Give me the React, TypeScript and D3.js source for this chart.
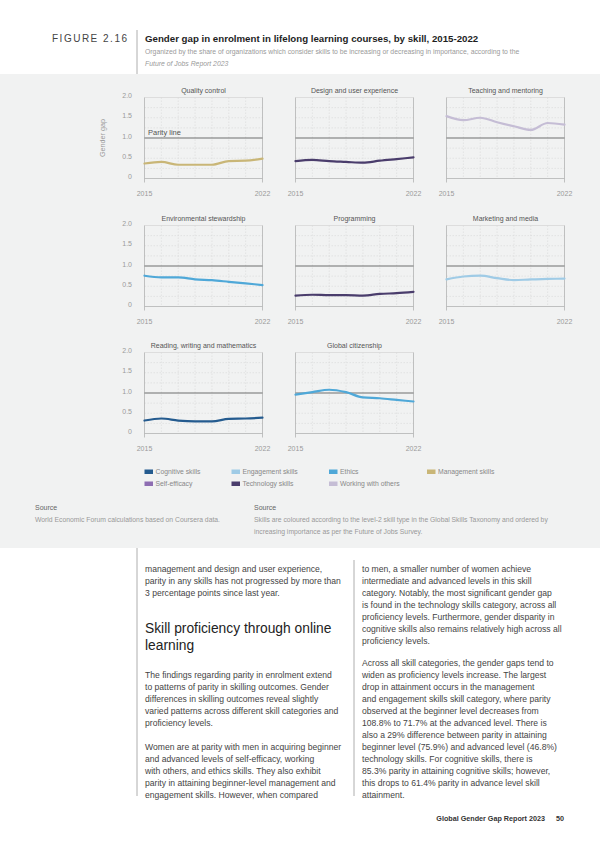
import React from "react";
import * as d3 from "d3";

const years = [2015, 2016, 2017, 2018, 2019, 2020, 2021, 2022];
const yTicks = [0, 0.5, 1, 1.5, 2];
const yTickLabels = ["0", "0.5", "1.0", "1.5", "2.0"];
const xTickLabels = ["2015", "2022"];

const skillTypes = ["Cognitive skills", "Engagement skills", "Ethics", "Management skills", "Self-efficacy", "Technology skills", "Working with others"];
const skillColors = ["#245b8f", "#9fcbe6", "#4fa8d8", "#c9b677", "#8e6db2", "#4a3d6c", "#c5bdd5"];

const qualityControl = [0.37, 0.41, 0.34, 0.34, 0.34, 0.43, 0.44, 0.49];
const designUX = [0.43, 0.46, 0.43, 0.41, 0.39, 0.44, 0.48, 0.52];
const teachingMentoring = [1.54, 1.44, 1.5, 1.39, 1.29, 1.2, 1.37, 1.33];
const environmentalStewardship = [0.76, 0.72, 0.72, 0.67, 0.65, 0.61, 0.57, 0.53];
const programming = [0.27, 0.29, 0.28, 0.28, 0.27, 0.31, 0.33, 0.36];
const marketingMedia = [0.67, 0.74, 0.76, 0.7, 0.65, 0.67, 0.68, 0.69];
const readingWritingMath = [0.32, 0.37, 0.32, 0.3, 0.3, 0.36, 0.37, 0.39];
const globalCitizenship = [0.96, 1.02, 1.08, 1.02, 0.89, 0.87, 0.83, 0.79];

const panelTitles = ["Quality control", "Design and user experience", "Teaching and mentoring", "Environmental stewardship", "Programming", "Marketing and media", "Reading, writing and mathematics", "Global citizenship"];
const panelSkillTypes = ["Management skills", "Technology skills", "Working with others", "Ethics", "Technology skills", "Engagement skills", "Cognitive skills", "Ethics"];
const panelValues = [qualityControl, designUX, teachingMentoring, environmentalStewardship, programming, marketingMedia, readingWritingMath, globalCitizenship];

const leftColumn = [
  "management and design and user experience,",
  "parity in any skills has not progressed by more than",
  "3 percentage points since last year.",
];
const leftColumn2 = [
  "The findings regarding parity in enrolment extend",
  "to patterns of parity in skilling outcomes. Gender",
  "differences in skilling outcomes reveal slightly",
  "varied patterns across different skill categories and",
  "proficiency levels.",
];
const leftColumn3 = [
  "Women are at parity with men in acquiring beginner",
  "and advanced levels of self-efficacy, working",
  "with others, and ethics skills. They also exhibit",
  "parity in attaining beginner-level management and",
  "engagement skills. However, when compared",
];
const rightColumn = [
  "to men, a smaller number of women achieve",
  "intermediate and advanced levels in this skill",
  "category. Notably, the most significant gender gap",
  "is found in the technology skills category, across all",
  "proficiency levels. Furthermore, gender disparity in",
  "cognitive skills also remains relatively high across all",
  "proficiency levels.",
];
const rightColumn2 = [
  "Across all skill categories, the gender gaps tend to",
  "widen as proficiency levels increase. The largest",
  "drop in attainment occurs in the management",
  "and engagement skills skill category, where parity",
  "observed at the beginner level decreases from",
  "108.8% to 71.7% at the advanced level. There is",
  "also a 29% difference between parity in attaining",
  "beginner level (75.9%) and advanced level (46.8%)",
  "technology skills. For cognitive skills, there is",
  "85.3% parity in attaining cognitive skills; however,",
  "this drops to 61.4% parity in advance level skill",
  "attainment.",
];

const FONT = "'Liberation Sans', Arial, Helvetica, sans-serif";
const colX = [144.5, 295.5, 446.5];
const rowY0 = [178.5, 306.5, 433.5];
const plotW = 118;
const plotH = 81;

function Panel({ idx }: { idx: number }) {
  const col = idx % 3;
  const row = Math.floor(idx / 3);
  const x0 = colX[col];
  const y0 = rowY0[row];
  const x = d3.scaleLinear().domain([2015, 2022]).range([x0, x0 + plotW]);
  const y = d3.scaleLinear().domain([0, 2]).range([y0, y0 - plotH]);
  const color = skillColors[skillTypes.indexOf(panelSkillTypes[idx])];
  const line = d3
    .line<number>()
    .x((_, i) => x(years[i]))
    .y((d) => y(d))
    .curve(d3.curveMonotoneX);
  const hGrid = d3.range(0.25, 2, 0.25).filter((v) => v !== 1);
  return (
    <g>
      {hGrid.map((v) => (
        <line key={"h" + v} x1={x0} x2={x0 + plotW} y1={y(v)} y2={y(v)} stroke="#d9d9d9" strokeWidth={0.6} strokeDasharray="1.5,1.5" />
      ))}
      {years.slice(1, -1).map((yr) => (
        <line key={"v" + yr} x1={x(yr)} x2={x(yr)} y1={y(2)} y2={y(0)} stroke="#d9d9d9" strokeWidth={0.6} strokeDasharray="1.5,1.5" />
      ))}
      <line x1={x0} x2={x0 + plotW} y1={y(2)} y2={y(2)} stroke="#d4d4d4" strokeWidth={0.7} />
      <line x1={x0} x2={x0} y1={y(2)} y2={y(0) + 4} stroke="#b3b3b3" strokeWidth={0.8} />
      <line x1={x0 + plotW} x2={x0 + plotW} y1={y(2)} y2={y(0) + 4} stroke="#b3b3b3" strokeWidth={0.8} />
      <line x1={x0} x2={x0 + plotW} y1={y(0)} y2={y(0)} stroke="#b3b3b3" strokeWidth={0.8} />
      <line x1={x0} x2={x0 + plotW} y1={y(1)} y2={y(1)} stroke="#6e6e6e" strokeWidth={1.2} />
      <path d={line(panelValues[idx]) || ""} fill="none" stroke={color} strokeWidth={2.2} strokeLinejoin="round" strokeLinecap="round" />
      <text x={x0 + plotW / 2} y={y(2) - 5} textAnchor="middle" fontSize={7} fill="#555">
        {panelTitles[idx]}
      </text>
      {xTickLabels.map((t) => (
        <text key={t} x={x(+t)} y={y0 + 17} textAnchor="middle" fontSize={7} fill="#9a9a9a">
          {t}
        </text>
      ))}
      {col === 0 &&
        yTicks.map((v, i) => (
          <text key={"yt" + v} x={132} y={y(v) + 0.5} textAnchor="end" fontSize={7} fill="#9a9a9a">
            {yTickLabels[i]}
          </text>
        ))}
      {idx === 0 && (
        <text x={x0 + 3.5} y={y(1) - 2.8} fontSize={7.5} fill="#555">
          Parity line
        </text>
      )}
    </g>
  );
}

export default function App() {
  const legendX = [144.5, 231.5, 329, 427];
  const legendY = [472, 484];
  const lh = 12;
  return (
    <div style={{ position: "absolute", left: 0, top: 0 }}>
      <svg width={600} height={848} style={{ display: "block", fontFamily: FONT }}>
        <rect x={0} y={0} width={600} height={848} fill="#ffffff" />
        <rect x={0} y={74} width={600} height={474} fill="#f1f2f2" />
        <text x={52} y={42} fontSize={10} fill="#444" letterSpacing={1.5}>
          FIGURE 2.16
        </text>
        <line x1={137} x2={137} y1={30} y2={74} stroke="#999" strokeWidth={0.8} />
        <text x={145} y={41.5} fontSize={9.7} fontWeight="bold" fill="#1e1e1e">
          Gender gap in enrolment in lifelong learning courses, by skill, 2015-2022
        </text>
        <text x={145} y={54} fontSize={6.85} fill="#9a9a9a">
          Organized by the share of organizations which consider skills to be increasing or decreasing in importance, according to the
        </text>
        <text x={145} y={66} fontSize={6.85} fill="#9a9a9a" fontStyle="italic">
          Future of Jobs Report 2023
        </text>

        <text transform="translate(104.5,138) rotate(-90)" textAnchor="middle" fontSize={7.2} fill="#9a9a9a">
          Gender gap
        </text>
        {panelValues.map((_, i) => (
          <Panel key={i} idx={i} />
        ))}

        {skillTypes.map((s, i) => {
          const r = i < 4 ? 0 : 1;
          const c = i < 4 ? i : i - 4;
          return (
            <g key={s}>
              <rect x={legendX[c]} y={legendY[r] - 2.5} width={8.5} height={4.5} fill={skillColors[i]} />
              <text x={legendX[c] + 11} y={legendY[r] + 2.3} fontSize={6.8} fill="#888">
                {s}
              </text>
            </g>
          );
        })}

        <text x={35} y={510} fontSize={7} fill="#666">Source</text>
        <text x={35} y={521.5} fontSize={6.8} fill="#999">World Economic Forum calculations based on Coursera data.</text>
        <text x={254} y={510} fontSize={7} fill="#666">Source</text>
        <text x={254} y={521.5} fontSize={6.8} fill="#999">Skills are coloured according to the level-2 skill type in the Global Skills Taxonomy and ordered by</text>
        <text x={254} y={533.5} fontSize={6.8} fill="#999">increasing importance as per the Future of Jobs Survey.</text>

        <line x1={137} x2={137} y1={548} y2={796} stroke="#999" strokeWidth={0.8} />
        <line x1={354} x2={354} y1={560} y2={796} stroke="#999" strokeWidth={0.8} />

        {leftColumn.map((t, i) => (
          <text key={"l1" + i} x={145} y={572 + i * lh} fontSize={8.6} fill="#444">{t}</text>
        ))}
        <text x={145} y={633} fontSize={13.8} fill="#222">Skill proficiency through online</text>
        <text x={145} y={650} fontSize={13.8} fill="#222">learning</text>
        {leftColumn2.map((t, i) => (
          <text key={"l2" + i} x={145} y={678 + i * lh} fontSize={8.6} fill="#444">{t}</text>
        ))}
        {leftColumn3.map((t, i) => (
          <text key={"l3" + i} x={145} y={750 + i * lh} fontSize={8.6} fill="#444">{t}</text>
        ))}
        {rightColumn.map((t, i) => (
          <text key={"r1" + i} x={362} y={572 + i * lh} fontSize={8.6} fill="#444">{t}</text>
        ))}
        {rightColumn2.map((t, i) => (
          <text key={"r2" + i} x={362} y={666 + i * lh} fontSize={8.6} fill="#444">{t}</text>
        ))}

        <text x={545} y={821} textAnchor="end" fontSize={7.2} fontWeight="bold" fill="#333">Global Gender Gap Report 2023</text>
        <text x={556} y={821} fontSize={7.2} fontWeight="bold" fill="#333">50</text>
      </svg>
    </div>
  );
}
